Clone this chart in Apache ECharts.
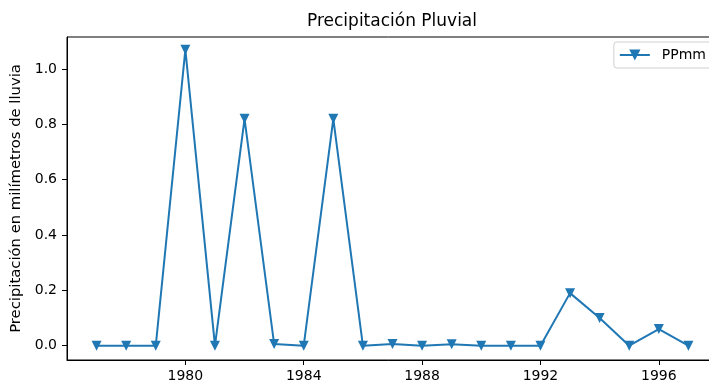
<!DOCTYPE html>
<html>
<head>
<meta charset="utf-8">
<script src="https://cdn.jsdelivr.net/npm/echarts@6/dist/echarts.min.js"></script>
<style>
html,body{margin:0;padding:0;background:#fff;}
#chart{width:709px;height:383px;}
</style>
</head>
<body>
<div id="chart"></div>
<script>
const years = [1977,1978,1979,1980,1981,1982,1983,1984,1985,1986,1987,1988,1989,1990,1991,1992,1993,1994,1995,1996,1997];
const ppmm  = [0,0,0,1.07,0,0.82,0.006,0,0.82,0,0.006,0,0.005,0,0,0,0.19,0.10,0,0.06,0];
const xTicks = [1980,1984,1988,1992,1996];
const yTicks = [0,0.2,0.4,0.6,0.8,1.0];
const seriesName = 'PPmm';
const titleText = 'Precipitación Pluvial';
const yAxisTitle = 'Precipitación en milímetros de lluvia';

const FONT = 'DejaVu Sans';
const chart = echarts.init(document.getElementById('chart'), null, {renderer:'canvas'});
chart.setOption({
  animation:false,
  backgroundColor:'#fff',
  title:{
    text:titleText, left:392, textAlign:'center', top:13, padding:0,
    textStyle:{fontFamily:FONT, fontSize:17, fontWeight:'normal', color:'#000'}
  },
  legend:{
    data:[seriesName], right:-7, top:42, padding:[6,10,6,5],
    borderColor:'#d0d0d0', borderWidth:1, borderRadius:3, backgroundColor:'#fff',
    itemWidth:30, itemHeight:14, itemGap:8,
    textStyle:{fontFamily:FONT, fontSize:14, color:'#000', padding:[0,0,0,7]}
  },
  grid:{left:67, top:37, right:-9, bottom:23, outerBoundsMode:'none', containLabel:false,
        show:true, borderColor:'#000', borderWidth:1, backgroundColor:'transparent'},
  xAxis:{
    type:'value', min:1976, max:1998,
    splitLine:{show:false},
    axisLine:{onZero:false, lineStyle:{color:'#000', width:1}},
    axisTick:{show:true, length:5, customValues:xTicks, lineStyle:{color:'#000'}},
    axisLabel:{customValues:xTicks, margin:9, fontFamily:FONT, fontSize:14, color:'#000', formatter:v=>String(v)}
  },
  yAxis:{
    type:'value', min:-0.0517, max:1.1157,
    name:yAxisTitle, nameLocation:'middle', nameGap:38,
    nameTextStyle:{fontFamily:FONT, fontSize:14.8, color:'#000'},
    splitLine:{show:false},
    axisLine:{show:true, onZero:false, lineStyle:{color:'#000', width:1}},
    axisTick:{show:true, length:5, customValues:yTicks, lineStyle:{color:'#000'}},
    axisLabel:{customValues:yTicks, margin:10, fontFamily:FONT, fontSize:14, color:'#000', formatter:v=>v.toFixed(1)}
  },
  series:[{
    name:seriesName, type:'line',
    data:years.map((y,i)=>[y, ppmm[i]]),
    symbol:'triangle', symbolRotate:180, symbolSize:10, showAllSymbol:true,
    lineStyle:{color:'#1f77b4', width:2},
    itemStyle:{color:'#1f77b4', borderWidth:0}
  }]
});
</script>
</body>
</html>
